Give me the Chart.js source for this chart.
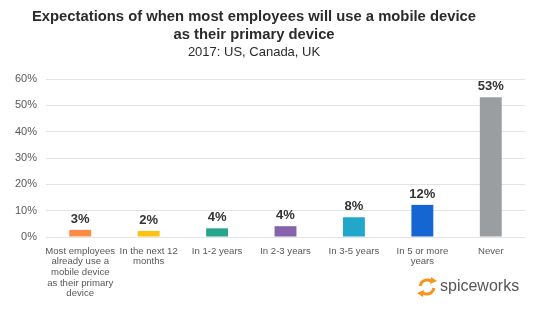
<!DOCTYPE html>
<html lang="en">
<head>
    <meta charset="UTF-8">
    <title>Mobile device expectations</title>
    <script src="https://cdn.jsdelivr.net/npm/chart.js"></script>
    <style>
        html, body {
            margin: 0;
            padding: 0;
            background-color: #ffffff;
        }
        #wrap {
            position: relative;
            width: 540px;
            height: 313px;
        }
    </style>
</head>
<body>
    <div id="wrap">
        <canvas id="chart" width="540" height="313"></canvas>
    </div>

    <script>
        // Dati
        const titleLines = ['Expectations of when most employees will use a mobile device', 'as their primary device'];
        const subtitleText = '2017: US, Canada, UK';
        const categories = [
            ['Most employees', 'already use a', 'mobile device', 'as their primary', 'device'],
            ['In the next 12', 'months'],
            ['In 1-2 years'],
            ['In 2-3 years'],
            ['In 3-5 years'],
            ['In 5 or more', 'years'],
            ['Never']
        ];
        const values = [2.7, 2.3, 3.3, 4.1, 7.5, 12.2, 53.1];
        const valueLabels = ['3%', '2%', '4%', '4%', '8%', '12%', '53%'];
        const barColors = ['#fd8b43', '#fdc20f', '#2aa58b', '#8563ad', '#21a7c9', '#1565d3', '#9b9ea0'];
        const yTicks = [0, 10, 20, 30, 40, 50, 60];

        const FONT = '"Liberation Sans", Arial, sans-serif';

        // Titolo disegnato a mano (centrato come nell'originale)
        const titlePlugin = {
            id: 'manualTitle',
            afterDraw(chart) {
                const ctx = chart.ctx;
                ctx.save();
                ctx.textAlign = 'center';
                ctx.textBaseline = 'middle';
                ctx.fillStyle = '#2b2b2b';
                ctx.font = 'bold 14.8px ' + FONT;
                ctx.fillText(titleLines[0], 254, 17);
                ctx.fillText(titleLines[1], 254, 35);
                ctx.font = '13px ' + FONT;
                ctx.fillText(subtitleText, 254, 52);
                ctx.restore();
            }
        };

        // Etichette sopra le barre
        const valueLabelPlugin = {
            id: 'valueLabels',
            afterDatasetsDraw(chart) {
                const ctx = chart.ctx;
                const meta = chart.getDatasetMeta(0);
                ctx.save();
                ctx.font = 'bold 13px ' + FONT;
                ctx.fillStyle = '#333333';
                ctx.textAlign = 'center';
                ctx.textBaseline = 'bottom';
                meta.data.forEach((bar, i) => {
                    ctx.fillText(valueLabels[i], bar.x, bar.y - 4);
                });
                ctx.restore();
            }
        };

        // Logo in basso a destra
        const logoPlugin = {
            id: 'logo',
            afterDraw(chart) {
                const ctx = chart.ctx;
                ctx.save();
                ctx.strokeStyle = '#f7941d';
                ctx.fillStyle = '#f7941d';
                ctx.lineWidth = 3;
                ctx.beginPath();
                ctx.arc(427, 287, 7, Math.PI * 1.05, Math.PI * 1.7);
                ctx.stroke();
                ctx.beginPath();
                ctx.arc(427, 287, 7, Math.PI * 0.05, Math.PI * 0.7);
                ctx.stroke();
                ctx.beginPath();
                ctx.moveTo(431, 277);
                ctx.lineTo(437, 281);
                ctx.lineTo(430, 284);
                ctx.closePath();
                ctx.fill();
                ctx.beginPath();
                ctx.moveTo(423, 297);
                ctx.lineTo(417, 293);
                ctx.lineTo(424, 290);
                ctx.closePath();
                ctx.fill();
                ctx.font = '16px ' + FONT;
                ctx.fillStyle = '#555555';
                ctx.textAlign = 'left';
                ctx.textBaseline = 'middle';
                ctx.fillText('spiceworks', 440, 287);
                ctx.restore();
            }
        };

        const ctx = document.getElementById('chart').getContext('2d');
        const chart = new Chart(ctx, {
            type: 'bar',
            data: {
                labels: categories,
                datasets: [{
                    data: values,
                    backgroundColor: barColors,
                    barPercentage: 0.32,
                    categoryPercentage: 1
                }]
            },
            options: {
                responsive: false,
                animation: false,
                layout: {
                    padding: { left: 0, right: 15, top: 79, bottom: 0 }
                },
                plugins: {
                    legend: { display: false },
                    tooltip: { enabled: false },
                    title: { display: false }
                },
                scales: {
                    y: {
                        min: 0,
                        max: 60,
                        afterBuildTicks(axis) {
                            axis.ticks = yTicks.map(v => ({ value: v }));
                        },
                        afterFit(axis) {
                            axis.width = 46;
                        },
                        ticks: {
                            callback: v => v + '%',
                            font: { family: FONT, size: 11 },
                            color: '#595959',
                            padding: 9
                        },
                        grid: { color: '#e3e3e3', drawTicks: false },
                        border: { display: false }
                    },
                    x: {
                        afterFit(axis) {
                            axis.height = 76;
                        },
                        ticks: {
                            font: { family: FONT, size: 9.6, lineHeight: 1.1 },
                            color: '#595959',
                            maxRotation: 0,
                            autoSkip: false,
                            padding: 1
                        },
                        grid: { display: false },
                        border: { display: false }
                    }
                }
            },
            plugins: [valueLabelPlugin, titlePlugin, logoPlugin]
        });
    </script>
</body>
</html>
